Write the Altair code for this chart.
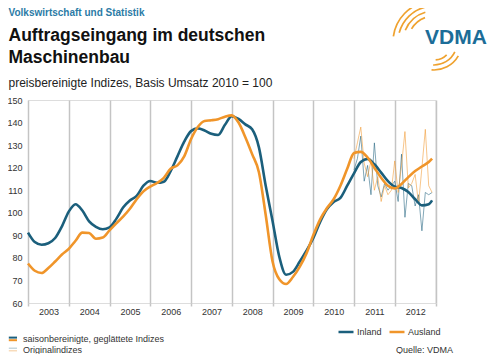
import altair as alt
import pandas as pd

# ---------------- data ----------------
months_smooth = list(range(0, 120, 2)) + [119]
inland_smooth = [91.2, 87.0, 85.8, 86.5, 88.8, 94.0, 100.5, 103.8, 101.0, 96.2,
                 93.8, 92.7, 93.5, 97.3, 102.3, 105.4, 107.5, 112.0, 114.1, 113.3,
                 113.8, 118.5, 125.0, 131.5, 136.2, 137.4, 136.5, 135.0, 134.5, 139.0,
                 142.8, 141.6, 139.2, 137.0, 129.0, 112.0, 96.5, 80.5, 72.5, 73.8,
                 78.3, 83.2, 88.7, 95.8, 101.5, 104.8, 106.6, 112.0, 117.5, 122.5,
                 123.9, 121.5, 117.8, 114.0, 111.6, 111.0, 109.2, 106.0, 103.3, 103.8,
                 105.5]
ausland_smooth = [77.5, 74.3, 73.3, 75.5, 78.4, 81.5, 84.0, 87.6, 91.2, 91.0,
                  88.5, 89.0, 92.2, 95.3, 98.3, 101.8, 106.0, 109.5, 111.6, 113.2,
                  115.5, 119.5, 121.0, 125.0, 132.6, 138.0, 140.7, 141.0, 141.5, 142.6,
                  143.2, 140.0, 133.5, 126.0, 118.0, 99.0, 78.5, 70.5, 68.4, 71.5,
                  76.0, 82.0, 90.0, 97.0, 102.0, 106.0, 112.0, 119.5, 126.5, 127.0,
                  124.5, 120.0, 115.5, 112.0, 110.8, 112.8, 115.8, 118.5, 120.5, 122.5,
                  124.0]
months_orig = list(range(96, 120))
inland_orig = [119, 124, 134, 114, 121, 108, 131, 112, 107, 113, 110, 112,
               114, 105, 126, 98, 113, 112, 103, 108, 92, 109, 108, 109]
ausland_orig = [124, 131, 138, 122, 116, 123, 110, 116, 105, 112, 108, 110,
                123, 109, 121, 136, 111, 113, 117, 104, 120, 137, 112, 109]
series_names = ["Inland", "Ausland"]
first_year = 2003
year_bounds = list(range(0, 121, 12))
y_ticks = list(range(60, 151, 10))

TEAL = "#1b5f7c"
ORANGE = "#f0952a"
FONT = "Liberation Sans"

smooth_df = pd.concat([
    pd.DataFrame({"m": months_smooth, "v": inland_smooth, "s": "Inland"}),
    pd.DataFrame({"m": months_smooth, "v": ausland_smooth, "s": "Ausland"}),
])
orig_df = pd.concat([
    pd.DataFrame({"m": months_orig, "v": inland_orig, "s": "Inland"}),
    pd.DataFrame({"m": months_orig, "v": ausland_orig, "s": "Ausland"}),
])

xscale = alt.Scale(domain=[0, 120], nice=False, zero=False)
yscale = alt.Scale(domain=[60, 150], nice=False, zero=False)
cscale = alt.Scale(domain=series_names, range=[TEAL, ORANGE])

xaxis = alt.Axis(values=year_bounds, title=None, grid=True, gridColor="#c4c4c4",
                 gridWidth=1.5, tickColor="#c4c4c4", tickWidth=1.5, tickSize=3,
                 domain=False, labelPadding=1, labelOffset=20.4, labelFlush=False,
                 labelFontSize=9, labelColor="#333333", labelFont=FONT,
                 labelExpr=f"datum.value < 120 ? '' + ({first_year} + datum.value / 12) : ''")
yaxis = alt.Axis(values=y_ticks, title=None, grid=False, ticks=False, domain=False,
                 labelPadding=6, labelFontSize=9, labelColor="#333333", labelFont=FONT)
legend = alt.Legend(orient="none", legendX=309, legendY=223,
                    direction="horizontal", title=None,
                    symbolType="stroke", symbolSize=225, symbolOpacity=1,
                    symbolStrokeWidth=2.5, labelFontSize=9,
                    labelFont=FONT, labelColor="#333333",
                    labelOffset=2, columnPadding=2)

thin = alt.Chart(orig_df).mark_line(strokeWidth=1, opacity=0.55).encode(
    x=alt.X("m:Q", scale=xscale, axis=xaxis),
    y=alt.Y("v:Q", scale=yscale, axis=yaxis),
    color=alt.Color("s:N", scale=cscale, sort=series_names, legend=legend),
)

thick = alt.Chart(smooth_df).mark_line(strokeWidth=2.6, interpolate="monotone").encode(
    x=alt.X("m:Q", scale=xscale, axis=xaxis),
    y=alt.Y("v:Q", scale=yscale, axis=yaxis),
    color=alt.Color("s:N", scale=cscale, sort=series_names, legend=legend),
)

one = pd.DataFrame({"a": [0]})


def txt(s, x, y, size, color="#222222", weight="normal", baseline="alphabetic"):
    return alt.Chart(one).mark_text(text=s, align="left", baseline=baseline,
                                    fontSize=size, fontWeight=weight, font=FONT,
                                    color=color).encode(x=alt.value(x), y=alt.value(y))


def seg(x1, x2, y, color, w=2.0):
    return alt.Chart(one).mark_rule(color=color, strokeWidth=w).encode(
        x=alt.value(x1), x2=alt.value(x2), y=alt.value(y))


def arc(r, t1, t2, w=1.7):
    return alt.Chart(one).mark_arc(innerRadius=r - w / 2, outerRadius=r + w / 2,
                                   theta=t1, theta2=t2, color="#efa22f").encode(
        x=alt.value(406), y=alt.value(-58))


texts = [
    txt("Volkswirtschaft und Statistik", -19.5, -84, 10, "#2b7ba6", "bold"),
    txt("Auftragseingang im deutschen", -19.5, -59.3, 17.5, "#111111", "bold"),
    txt("Maschinenbau", -19.5, -36.7, 17.5, "#111111", "bold"),
    txt("preisbereinigte Indizes, Basis Umsatz 2010 = 100", -19.5, -12.7, 12, "#222222"),
    txt("VDMA", 397, -56.5, 21, "#1c6d98", "bold"),
    txt("saisonbereinigte, geglättete Indizes", -5, 239, 9, "#333333", baseline="middle"),
    txt("Originalindizes", -5, 249.5, 9, "#333333", baseline="middle"),
    txt("Quelle: VDMA", 368, 249.5, 9, "#333333", baseline="middle"),
]
samples = [
    seg(-19.2, -11.0, 237.6, TEAL),
    seg(-19.2, -11.0, 240.2, ORANGE),
    seg(-19.2, -11.0, 248.2, "#b9cdd6", 1.2),
    seg(-19.2, -11.0, 250.8, "#f7d3aa", 1.2),
]
arcs = [
    arc(26, 5.24, 5.93), arc(31, 5.10, 6.00), arc(36, 4.97, 6.06), arc(41, 4.85, 6.11),
    arc(18, 2.36, 3.05), arc(23, 2.01, 3.18), arc(28, 2.09, 3.23),
]

chart = alt.layer(thin, thick, *texts, *samples, *arcs).properties(
    width=407.5, height=203,
    autosize=alt.AutoSizeParams(type="none"),
    padding={"left": 20, "top": 92, "right": 56.5, "bottom": 51},
).configure_view(stroke=None).configure(font=FONT)

chart.save("out.html", embed_options={"renderer": "svg", "actions": False})
